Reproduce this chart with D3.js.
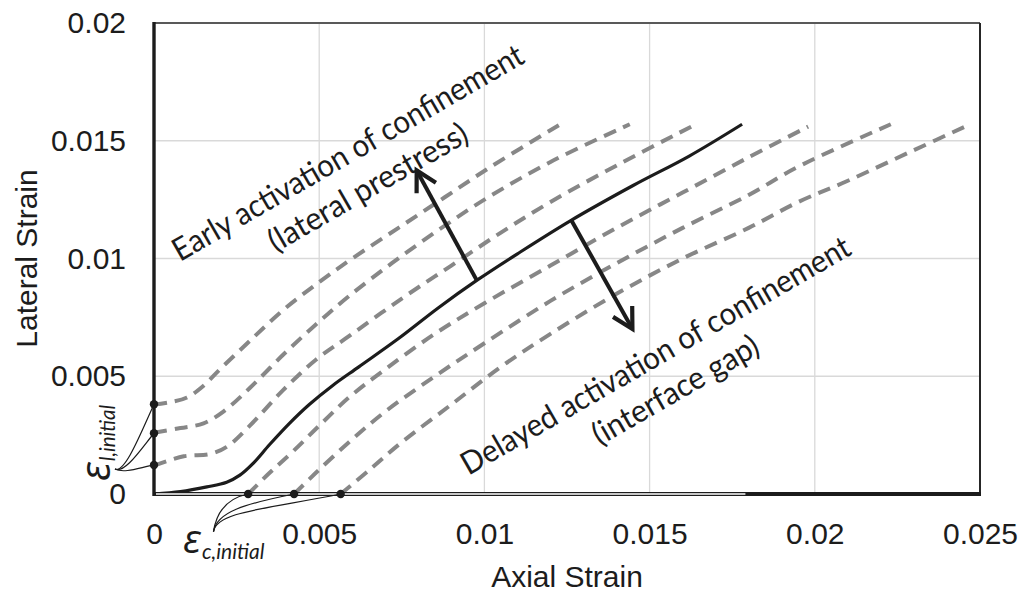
<!DOCTYPE html>
<html><head><meta charset="utf-8">
<script src="https://cdn.jsdelivr.net/npm/d3@7/dist/d3.min.js"></script>
<style>body{margin:0;background:#fff} svg{display:block}</style>
</head><body><svg id="chart" width="1026" height="595"></svg>
<script>
// ---- data ----
const xTickValues = [0, 0.005, 0.01, 0.015, 0.02, 0.025];
const xTickLabels = ["0", "0.005", "0.01", "0.015", "0.02", "0.025"];
const yTickValues = [0, 0.005, 0.01, 0.015, 0.02];
const yTickLabels = ["0", "0.005", "0.01", "0.015", "0.02"];
const xTitle = "Axial Strain";
const yTitle = "Lateral Strain";

// reference (solid) curve: [axial, lateral]
const baseCurve = [[0,0],[0.0008,0.0001],[0.0016,0.0003],[0.0022,0.0005],[0.0026,0.0008],[0.0030,0.0013],[0.0035,0.0021],[0.0041,0.0030],[0.0047,0.0038],[0.0054,0.0046],[0.0062,0.0054],[0.0074,0.0066],[0.0086,0.0079],[0.0098,0.0091],[0.0110,0.0102],[0.0126,0.0116],[0.0145,0.0131],[0.0162,0.01435],[0.0178,0.0157]];
// early activation (lateral prestress)
const early1 = [[0,0.0038],[0.0005,0.0039],[0.0010,0.0041],[0.0015,0.0046],[0.0020,0.0053],[0.0029,0.0065],[0.0039,0.0078],[0.0050,0.0090],[0.0060,0.0100],[0.0074,0.0113],[0.0088,0.0126],[0.0102,0.0139],[0.0123,0.0157]];
const early2 = [[0,0.0026],[0.0008,0.0028],[0.0015,0.0030],[0.0021,0.0035],[0.0029,0.0045],[0.0039,0.0059],[0.0049,0.0072],[0.0059,0.0084],[0.0072,0.0098],[0.0086,0.0112],[0.0100,0.0125],[0.0120,0.0141],[0.0144,0.0157]];
const early3 = [[0,0.0012],[0.0009,0.0016],[0.0017,0.0017],[0.0022,0.0020],[0.0029,0.0029],[0.0039,0.0044],[0.0049,0.0057],[0.0059,0.0067],[0.0075,0.0083],[0.0090,0.0097],[0.0105,0.0111],[0.0120,0.0124],[0.0142,0.0141],[0.0164,0.0157]];
// delayed activation (interface gap)
const delayed1 = [[0.00285,0],[0.0035,0.0009],[0.0042,0.0018],[0.0050,0.0029],[0.0059,0.0041],[0.0070,0.0053],[0.0085,0.0068],[0.0100,0.0081],[0.0120,0.0097],[0.0140,0.0113],[0.0160,0.0128],[0.0180,0.0143],[0.0198,0.0156]];
const delayed2 = [[0.00424,0],[0.0049,0.0009],[0.0059,0.0022],[0.0070,0.0035],[0.0085,0.0050],[0.0100,0.0064],[0.0120,0.0082],[0.0140,0.0098],[0.0160,0.0113],[0.0180,0.0127],[0.0195,0.0139],[0.0223,0.0157]];
const delayed3 = [[0.00565,0],[0.0065,0.0010],[0.0075,0.0022],[0.0090,0.0038],[0.0105,0.0054],[0.0120,0.0068],[0.0140,0.0085],[0.0160,0.0100],[0.0180,0.0113],[0.0195,0.0124],[0.0210,0.0133],[0.0230,0.0146],[0.0247,0.0157]];
const dashedCurves = [early1, early2, early3, delayed1, delayed2, delayed3];

const lateralInitial = [0.00381, 0.00258, 0.00123];
const axialInitial = [0.00285, 0.00424, 0.00565];
const arrowUp = [[0.00977, 0.00907], [0.00795, 0.01374]];
const arrowDown = [[0.01264, 0.01160], [0.01448, 0.00701]];
const braceLateralAnchor = [-0.00118, 0.00106];
const braceAxialAnchor = [0.00180, -0.00160];
const epsLateralPos = [-0.00133, 0.00055];
const epsAxialPos = [0.00088, -0.00250];
const earlyLabelPos = [0.00603, 0.01410];
const delayedLabelPos = [0.01534, 0.00549];
const earlyLines = ["Early activation of confinement", "(lateral prestress)"];
const delayedLines = ["Delayed activation of confinement", "(interface gap)"];
const axisLineEnd = 0.0179;

// ---- drawing ----
const svg = d3.select("#chart");
const x = d3.scaleLinear().domain([0, 0.025]).range([154, 980]);
const y = d3.scaleLinear().domain([0, 0.02]).range([494, 23]);
const ink = "#1c1c1c";

// grid
svg.append("g").selectAll("line.v").data(xTickValues.filter(v => v > 0 && v < 0.025)).join("line")
  .attr("x1", d => x(d)).attr("x2", d => x(d)).attr("y1", y(0)).attr("y2", y(0.02))
  .attr("stroke", "#d9d9d9").attr("stroke-width", 1.3);
svg.append("g").selectAll("line.h").data(yTickValues.filter(v => v > 0 && v < 0.02)).join("line")
  .attr("x1", x(0)).attr("x2", x(0.025)).attr("y1", d => y(d)).attr("y2", d => y(d))
  .attr("stroke", "#d9d9d9").attr("stroke-width", 1.3);

// borders
svg.append("line").attr("x1", x(0)).attr("x2", x(0.025)).attr("y1", y(0.02)).attr("y2", y(0.02))
  .attr("stroke", "#595959").attr("stroke-width", 2);
svg.append("line").attr("x1", x(0.025)).attr("x2", x(0.025)).attr("y1", y(0.02)).attr("y2", y(0))
  .attr("stroke", "#262626").attr("stroke-width", 2);

// axes labels
const fontAx = "'Liberation Sans', Arial, sans-serif";
const gx = svg.append("g").attr("transform", `translate(0,${y(0)})`)
  .call(d3.axisBottom(x).tickValues(xTickValues).tickFormat((d, i) => xTickLabels[i]).tickSize(0).tickPadding(29));
const gy = svg.append("g").attr("transform", `translate(${x(0)},0)`)
  .call(d3.axisLeft(y).tickValues(yTickValues).tickFormat((d, i) => yTickLabels[i]).tickSize(0).tickPadding(28));
[gx, gy].forEach(g => {
  g.select(".domain").remove();
  g.selectAll("text").attr("font-family", fontAx).attr("font-size", 30).attr("fill", ink);
});

svg.append("text").attr("x", (x(0) + x(0.025)) / 2).attr("y", 587).attr("text-anchor", "middle")
  .attr("font-family", fontAx).attr("font-size", 30).attr("fill", ink).text(xTitle);
svg.append("text").attr("transform", `translate(36.5,${(y(0) + y(0.02)) / 2}) rotate(-90)`).attr("text-anchor", "middle")
  .attr("font-family", fontAx).attr("font-size", 30).attr("fill", ink).text(yTitle);

// curves
const line = d3.line().x(d => x(d[0])).y(d => y(d[1])).curve(d3.curveCatmullRom.alpha(0.5));
svg.append("g").selectAll("path").data(dashedCurves).join("path")
  .attr("d", line).attr("fill", "none").attr("stroke", "#878787").attr("stroke-width", 4)
  .attr("stroke-dasharray", "13,8");
svg.append("path").datum(baseCurve).attr("d", line).attr("fill", "none")
  .attr("stroke", ink).attr("stroke-width", 3.2);

// left & bottom axis lines
svg.append("line").attr("x1", x(0)).attr("x2", x(0)).attr("y1", y(0.02) - 1).attr("y2", y(0) + 2)
  .attr("stroke", ink).attr("stroke-width", 3.4);
svg.append("line").attr("x1", x(0)).attr("x2", x(0.025) + 1).attr("y1", y(0)).attr("y2", y(0))
  .attr("stroke", ink).attr("stroke-width", 4);
svg.append("line").attr("x1", x(0) + 2).attr("x2", x(axisLineEnd)).attr("y1", y(0)).attr("y2", y(0))
  .attr("stroke", "#fff").attr("stroke-width", 1.3);

// braces
const braceL = svg.append("g").attr("fill", "none").attr("stroke", ink).attr("stroke-width", 1.2);
const AL = [x(braceLateralAnchor[0]), y(braceLateralAnchor[1])];
lateralInitial.forEach(v => {
  const D = [x(0), y(v)];
  const c1 = [AL[0] + 10, AL[1] + 5];
  const c2 = [D[0] - 12, D[1] + (AL[1] - D[1]) * 0.4];
  braceL.append("path").attr("d", `M${AL}C${c1} ${c2} ${D}`);
});
const AC = [x(braceAxialAnchor[0]), y(braceAxialAnchor[1])];
axialInitial.forEach(v => {
  const D = [x(v), y(0)];
  const w = D[0] - AC[0];
  const c1 = [AC[0] + 3, AC[1] - 20];
  const c2 = [D[0] - w * 0.6, D[1] + w * 0.12];
  braceL.append("path").attr("d", `M${AC}C${c1} ${c2} ${D}`);
});

// dots
svg.append("g").selectAll("circle.l").data(lateralInitial).join("circle")
  .attr("cx", x(0)).attr("cy", d => y(d)).attr("r", 4.2).attr("fill", ink);
svg.append("g").selectAll("circle.c").data(axialInitial).join("circle")
  .attr("cx", d => x(d)).attr("cy", y(0)).attr("r", 4.2).attr("fill", ink);

// arrows
const defs = svg.append("defs");
defs.append("marker").attr("id", "head").attr("markerUnits", "userSpaceOnUse")
  .attr("viewBox", "-26 -15 32 30").attr("markerWidth", 32).attr("markerHeight", 30)
  .attr("refX", 0).attr("refY", 0).attr("orient", "auto")
  .append("path").attr("d", "M-20,-11L0,0L-20,11").attr("fill", "none")
  .attr("stroke", ink).attr("stroke-width", 4.2).attr("stroke-linejoin", "miter");
[arrowUp, arrowDown].forEach(a => {
  svg.append("line").attr("x1", x(a[0][0])).attr("y1", y(a[0][1]))
    .attr("x2", x(a[1][0])).attr("y2", y(a[1][1]))
    .attr("stroke", ink).attr("stroke-width", 4).attr("marker-end", "url(#head)");
});

// rotated annotation labels
const fontNote = "Lato, 'Open Sans', sans-serif";
function note(pos, lines, lens) {
  const g = svg.append("g").attr("transform", `translate(${x(pos[0])},${y(pos[1])}) rotate(-30)`);
  lines.forEach((t, i) => {
    g.append("text").attr("x", 0).attr("y", i * 40).attr("text-anchor", "middle")
      .attr("font-family", fontNote).attr("font-size", 31.5).attr("fill", ink)
      .attr("textLength", lens[i]).attr("lengthAdjust", "spacingAndGlyphs").text(t);
  });
}
note(earlyLabelPos, earlyLines, [400, 225]);
note(delayedLabelPos, delayedLines, [444, 187]);

// epsilon labels
const fontEps = "'Open Sans', 'Noto Sans', 'DejaVu Sans', sans-serif";
const tl = svg.append("text").attr("transform", `translate(${x(epsLateralPos[0])},${y(epsLateralPos[1])}) rotate(-90)`)
  .attr("fill", ink).attr("font-style", "italic");
tl.append("tspan").attr("font-family", fontEps).attr("font-size", 42).text("ε");
tl.append("tspan").attr("font-family", fontNote).attr("font-size", 20.5).attr("dy", 5).attr("dx", 1).text("l,initial");
const tc = svg.append("text").attr("transform", `translate(${x(epsAxialPos[0])},${y(epsAxialPos[1])})`)
  .attr("fill", ink).attr("font-style", "italic");
tc.append("tspan").attr("font-family", fontEps).attr("font-size", 40).text("ε");
tc.append("tspan").attr("font-family", fontNote).attr("font-size", 21).attr("dy", 6).attr("dx", 1).text("c,initial");
</script></body></html>
